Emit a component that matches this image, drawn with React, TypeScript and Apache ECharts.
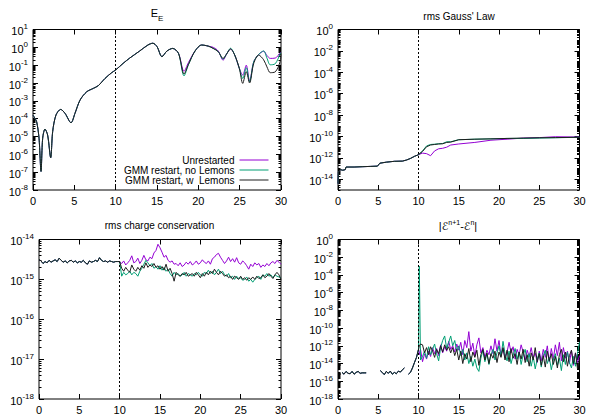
import React, { useEffect, useRef } from 'react';
import * as echarts from 'echarts';

// ---------- shared ----------
const seriesNames = ['Unrestarted', 'GMM restart, no Lemons', 'GMM restart, w  Lemons'];
const seriesColors = ['#9400d3', '#009e73', '#1e1e1e'];
const xTickStep = 5;
const restartTime = 10;

// ---------- panel 1 : E_E ----------
const eeEarlyT = [0, 0.2, 0.44, 0.73, 0.97, 1.17, 1.45, 1.77, 2.14, 2.38, 2.78, 3.35, 3.87, 4.6, 5.08, 5.69, 6.49, 7.3, 7.9, 8.71, 9.52, 10];
const eeEarly = [1.6e-4, 1.1e-4, 6.8e-5, 8e-6, 1.1e-7, 8e-6, 2.6e-5, 1.2e-5, 6.5e-7, 1.9e-5, 1.6e-4, 3.3e-4, 2.0e-4, 5.9e-5, 2.0e-4, 1.1e-3, 3.2e-3, 5.0e-3, 7.1e-3, 1.8e-2, 3.8e-2, 5.4e-2];
const eeLateT = [10.9, 11.7, 12.9, 13.9, 14.5, 15.0, 15.6, 16.2, 16.9, 17.6, 18.27, 18.8, 19.6, 20.4, 21.2, 21.8, 22.4, 23.0, 23.4, 23.9, 24.4, 24.96, 25.37, 25.8, 26.2, 26.7, 27.3, 27.9, 28.3, 28.7, 29.3, 29.9, 30];
const eeLateUnrestarted = [0.126, 0.25, 0.62, 1.35, 1.7, 1.1, 0.30, 0.62, 0.87, 0.46, 0.045, 0.14, 0.62, 1.35, 1.17, 1.0, 0.63, 0.19, 0.41, 0.81, 0.37, 0.066, 0.028, 0.10, 0.0126, 0.155, 0.40, 0.60, 0.35, 0.24, 0.25, 0.48, 0.52];
const eeLateNoLemons = [0.126, 0.25, 0.62, 1.35, 1.7, 1.1, 0.30, 0.62, 0.87, 0.46, 0.025, 0.105, 0.62, 1.35, 1.17, 0.87, 0.58, 0.22, 0.41, 0.89, 0.37, 0.066, 0.018, 0.072, 0.0117, 0.155, 0.40, 0.63, 0.25, 0.105, 0.12, 0.42, 0.5];
const eeLateWLemons = [0.126, 0.25, 0.62, 1.35, 1.7, 1.1, 0.30, 0.62, 0.87, 0.46, 0.032, 0.11, 0.62, 1.35, 1.17, 0.87, 0.58, 0.24, 0.41, 0.81, 0.37, 0.066, 0.0095, 0.043, 0.01, 0.126, 0.37, 0.2, 0.08, 0.038, 0.042, 0.16, 0.45];

// ---------- panel 2 : rms Gauss' Law ----------
const gaussEarlyT = [0, 0.05, 0.3, 0.6, 0.9, 1.0, 2, 3, 4, 4.9, 5.2, 6, 7, 8, 8.5, 9, 9.5, 10];
const gaussEarly = [4e-15, 5e-14, 8e-14, 7e-14, 8e-14, 1.4e-13, 1.4e-13, 1.5e-13, 1.6e-13, 1.7e-13, 3.2e-13, 4e-13, 4.8e-13, 5e-13, 6.3e-13, 8.9e-13, 1.4e-12, 2.0e-12];
const gaussLateT = [10.5, 11, 11.5, 12, 12.5, 13, 13.5, 14, 15, 17, 19, 21, 23, 25, 27, 30];
const gaussLateUnrestarted = [2.8e-12, 2.5e-12, 1.6e-12, 4.5e-12, 7.1e-12, 7.9e-12, 1e-11, 1.6e-11, 2.0e-11, 2.8e-11, 4.5e-11, 5.6e-11, 7.1e-11, 7.9e-11, 9.5e-11, 8.9e-11];
const gaussLateNoLemons = [4.5e-12, 1.3e-11, 1.8e-11, 1.9e-11, 2.1e-11, 2.2e-11, 3.2e-11, 3.2e-11, 5e-11, 5.6e-11, 6e-11, 6.6e-11, 6.6e-11, 7.1e-11, 7.6e-11, 8.5e-11];
const gaussLateWLemons = [4e-12, 1.1e-11, 1.6e-11, 1.8e-11, 2e-11, 2.1e-11, 2.8e-11, 3e-11, 5e-11, 5.6e-11, 6e-11, 6.6e-11, 7.1e-11, 7.6e-11, 7.9e-11, 8.5e-11];

// ---------- panel 3 : rms charge conservation (samples every 0.25) ----------
const chargeEarly = [
  3.2e-15, 2.9e-15, 2.5e-15, 2.8e-15, 2.6e-15, 3.0e-15, 2.7e-15, 2.9e-15,
  3.1e-15, 2.8e-15, 3.4e-15, 3.0e-15, 2.7e-15, 2.9e-15, 2.6e-15, 2.9e-15,
  3.0e-15, 2.7e-15, 2.9e-15, 2.6e-15, 2.8e-15, 2.7e-15, 3.0e-15, 2.6e-15,
  2.4e-15, 2.9e-15, 2.7e-15, 2.8e-15, 3.0e-15, 2.8e-15, 3.5e-15, 3.0e-15,
  2.8e-15, 2.9e-15, 2.7e-15, 2.9e-15, 2.8e-15, 2.7e-15, 2.8e-15, 2.8e-15,
  2.8e-15,
];
const chargeLateUnrestarted = [
  2.5e-15, 2.9e-15, 2.3e-15, 2.6e-15, 3.0e-15, 3.9e-15, 2.6e-15, 2.8e-15,
  3.4e-15, 2.5e-15, 3.0e-15, 4.0e-15, 3.1e-15, 2.9e-15, 3.6e-15, 3.3e-15,
  4.6e-15, 5.3e-15, 7.6e-15, 6.2e-15, 4.8e-15, 3.6e-15, 4.0e-15, 3.0e-15,
  2.7e-15, 2.9e-15, 2.4e-15, 2.5e-15, 2.2e-15, 2.6e-15, 2.1e-15, 2.3e-15,
  2.7e-15, 2.4e-15, 2.8e-15, 2.3e-15, 2.5e-15, 2.9e-15, 2.4e-15, 2.6e-15,
  3.1e-15, 2.7e-15, 2.5e-15, 2.9e-15, 2.4e-15, 3.3e-15, 3.6e-15, 4.2e-15,
  4.5e-15, 3.6e-15, 3.0e-15, 2.5e-15, 2.9e-15, 3.6e-15, 2.8e-15, 3.3e-15,
  2.7e-15, 3.5e-15, 2.6e-15, 2.4e-15, 2.9e-15, 2.6e-15, 2.2e-15, 1.8e-15,
  2.4e-15, 2.1e-15, 2.6e-15, 2.3e-15, 2.5e-15, 2.0e-15, 2.3e-15, 2.1e-15,
  2.5e-15, 2.2e-15, 2.6e-15, 2.8e-15, 2.5e-15, 3.0e-15, 2.7e-15, 2.4e-15,
];
const chargeLateNoLemons = [
  1.2e-15, 1.5e-15, 1.3e-15, 1.4e-15, 1.6e-15, 1.3e-15, 1.5e-15, 1.4e-15,
  1.2e-15, 1.6e-15, 1.9e-15, 2.4e-15, 3.0e-15, 2.6e-15, 2.2e-15, 2.5e-15,
  1.9e-15, 2.1e-15, 1.8e-15, 2.2e-15, 1.7e-15, 2.0e-15, 1.6e-15, 1.8e-15,
  1.4e-15, 1.2e-15, 1.5e-15, 1.3e-15, 1.4e-15, 1.2e-15, 1.3e-15, 1.5e-15,
  1.2e-15, 1.4e-15, 1.3e-15, 1.2e-15, 1.4e-15, 1.3e-15, 1.5e-15, 1.3e-15,
  1.2e-15, 1.5e-15, 1.4e-15, 1.7e-15, 1.4e-15, 1.6e-15, 1.3e-15, 1.5e-15,
  1.8e-15, 1.4e-15, 1.6e-15, 1.3e-15, 1.2e-15, 1.4e-15, 1.1e-15, 1.2e-15,
  1.0e-15, 1.2e-15, 1.05e-15, 1.1e-15, 0.95e-15, 1.0e-15, 1.15e-15, 0.9e-15,
  1.0e-15, 0.85e-15, 1.0e-15, 1.1e-15, 1.2e-15, 1.0e-15, 1.3e-15, 1.2e-15,
  1.4e-15, 1.2e-15, 1.3e-15, 1.1e-15, 1.3e-15, 1.2e-15, 1.15e-15, 1.1e-15,
];
const chargeLateWLemons = [
  1.9e-15, 1.6e-15, 2.0e-15, 1.7e-15, 1.5e-15, 2.3e-15, 1.8e-15, 1.6e-15,
  2.0e-15, 1.7e-15, 2.2e-15, 1.9e-15, 2.6e-15, 2.0e-15, 2.3e-15, 2.1e-15,
  2.5e-15, 2.0e-15, 2.2e-15, 1.8e-15, 2.1e-15, 1.7e-15, 2.4e-15, 1.6e-15,
  1.9e-15, 1.4e-15, 0.9e-15, 1.5e-15, 1.3e-15, 1.2e-15, 1.4e-15, 1.3e-15,
  1.5e-15, 1.2e-15, 1.3e-15, 1.4e-15, 1.2e-15, 1.5e-15, 1.3e-15, 1.1e-15,
  1.4e-15, 1.2e-15, 1.5e-15, 1.3e-15, 1.6e-15, 1.4e-15, 1.8e-15, 1.5e-15,
  1.3e-15, 1.6e-15, 1.4e-15, 1.2e-15, 1.3e-15, 1.1e-15, 1.2e-15, 1.0e-15,
  1.2e-15, 1.1e-15, 1.0e-15, 1.2e-15, 1.0e-15, 1.1e-15, 0.95e-15, 1.1e-15,
  1.0e-15, 1.15e-15, 1.0e-15, 1.2e-15, 1.05e-15, 1.1e-15, 1.3e-15, 1.1e-15,
  1.2e-15, 1.4e-15, 1.2e-15, 1.05e-15, 1.3e-15, 1.5e-15, 1.3e-15, 1.0e-15,
];

// ---------- panel 4 : |E^{n+1} - E^n| (samples every 0.25, null = no data) ----------
const diffEarly = [
  null, null, 1e-15, 6.3e-16, 1.3e-15, 7.9e-16, 7.1e-16, 1.3e-15,
  6.3e-16, 1e-15, 1.3e-15, 7.9e-16, 8.9e-16, 8.9e-16, 8.9e-16, null,
  null, null, null, null, null, 1.6e-15, 1e-15, 5.6e-16,
  1.3e-15, 7.9e-16, 1.4e-15, 6.3e-16, 1e-15, 7.1e-16, 1.4e-15, 1.1e-15,
  2.0e-15, 3.2e-15, null, 6.3e-16, 1e-15, 3.2e-15, 1.3e-14, 5.0e-14,
  4.0e-13,
];
const diffJumpT = 10.1;
const diffJump = [1e-13, 1e-3, 1e-12];
const diffLateUnrestarted = [
  4.0e-13, 1.6e-14, 1.3e-13, 3.2e-14, 2.5e-13, 6.3e-14, 6.3e-13, 1.3e-13,
  5.0e-13, 7.9e-14, 1.3e-12, 1.6e-13, 7.9e-13, 2.5e-13, 3.2e-12, 4.0e-13,
  1e-12, 2.0e-13, 1.6e-12, 3.2e-13, 2.5e-12, 1e-13, 4.0e-12, 6.3e-13,
  4.0e-11, 2.5e-13, 2.0e-12, 6.3e-14, 1.3e-12, 7.9e-12, 1.6e-13, 6.3e-13,
  5.0e-14, 3.2e-13, 1e-13, 1e-12, 1.3e-13, 6.3e-12, 2.5e-13, 4.0e-12,
  7.9e-14, 5.0e-13, 4.0e-14, 2.0e-13, 2.5e-12, 1.6e-13, 7.9e-13, 3.2e-14,
  4.0e-13, 1e-13, 1.3e-12, 2.0e-13, 2.5e-14, 3.2e-13, 6.3e-14, 6.3e-13,
  4.0e-14, 1.6e-13, 1.3e-14, 2.5e-13, 2.0e-14, 4.0e-13, 5.0e-14, 1e-12,
  1.6e-14, 5.0e-13, 3.2e-14, 1.3e-12, 7.9e-14, 2.5e-12, 2.0e-14, 6.3e-13,
  4.0e-14, 2.5e-13, 1e-14, 3.2e-13, 6.3e-15, 1.6e-13, 1.3e-14, 7.9e-14,
];
const diffLateNoLemons = [
  2.5e-14, 6.3e-14, 2.5e-13, 4.0e-14, 7.9e-13, 1e-13, 4.0e-13, 1.6e-12,
  1.3e-13, 2.0e-14, 6.3e-13, 4.0e-12, 1.3e-11, 5.0e-13, 2.5e-12, 1.3e-11,
  1e-12, 4.0e-12, 2.5e-13, 1e-12, 7.9e-14, 4.0e-13, 2.5e-14, 1.6e-13,
  1e-14, 6.3e-14, 5.0e-15, 3.2e-14, 3.2e-15, 1.3e-15, 4.0e-14, 3.2e-13,
  1.6e-14, 1.3e-13, 7.9e-15, 1e-13, 4.0e-13, 2.5e-14, 1.6e-13, 1e-12,
  6.3e-14, 3.2e-12, 1.3e-13, 2.0e-14, 2.5e-13, 1e-14, 7.9e-14, 5.0e-13,
  3.2e-14, 2.0e-13, 7.9e-15, 1e-13, 4.0e-13, 1.6e-14, 1.3e-13, 5.0e-15,
  6.3e-14, 2.5e-15, 3.2e-14, 1.6e-13, 4.0e-15, 7.9e-14, 3.2e-13, 1e-14,
  5.0e-14, 2.0e-15, 2.5e-14, 1.3e-13, 6.3e-15, 4.0e-14, 1.6e-15, 1e-13,
  7.9e-15, 2.0e-13, 1.3e-14, 3.2e-15, 6.3e-14, 5.0e-15, 1.3e-13, 2.5e-12,
];
const diffLateWLemons = [
  1.6e-12, 1.3e-12, 1.6e-13, 6.3e-13, 1e-13, 7.9e-13, 2.5e-13, 5.0e-14,
  4.0e-13, 1.3e-13, 1e-12, 2.0e-13, 1.3e-12, 3.2e-13, 7.9e-13, 1.6e-13,
  6.3e-13, 7.9e-14, 4.0e-13, 2.5e-14, 2.5e-13, 1e-14, 1.3e-13, 3.2e-14,
  5.0e-13, 1.6e-14, 2.0e-13, 5.0e-14, 3.2e-13, 6.3e-15, 1e-13, 4.0e-13,
  2.5e-14, 1.6e-13, 1e-14, 1.3e-13, 4.0e-14, 2.5e-13, 1.3e-14, 2.0e-13,
  5.0e-14, 6.3e-13, 2.5e-14, 3.2e-13, 1.6e-14, 5.0e-13, 4.0e-14, 1.3e-13,
  7.9e-15, 2.0e-13, 3.2e-14, 4.0e-13, 1.3e-14, 1e-13, 5.0e-15, 1.6e-13,
  2.5e-14, 6.3e-13, 1.6e-14, 1.3e-13, 6.3e-15, 7.9e-14, 4.0e-15, 2.5e-13,
  2.0e-14, 1.3e-13, 7.9e-15, 6.3e-14, 3.2e-15, 1e-13, 4.0e-13, 1.6e-14,
  2.0e-13, 5.0e-15, 7.9e-14, 3.2e-13, 1e-14, 1.6e-13, 2.5e-15, 3.2e-14,
];

// ---------- helpers ----------
const FONT = '"Liberation Sans", Arial, Helvetica, sans-serif';
const sampleTimes = (start: number, step: number, n: number) =>
  Array.from({ length: n }, (_, i) => +(start + step * i).toFixed(4));
const toPoints = (ts: number[], vs: (number | null)[]) =>
  ts.map((t, i) => (vs[i] == null ? [t, '-'] : [t, Math.log10(vs[i] as number)]));

const eeLate = [eeLateUnrestarted, eeLateNoLemons, eeLateWLemons];
const gaussLate = [gaussLateUnrestarted, gaussLateNoLemons, gaussLateWLemons];
const chargeLate = [chargeLateUnrestarted, chargeLateNoLemons, chargeLateWLemons];
const diffLate = [diffLateUnrestarted, diffLateNoLemons, diffLateWLemons];

const panelY = [
  { min: -8, max: 1, step: 1 },
  { min: -15, max: 0, step: 2 },
  { min: -18, max: -14, step: 1 },
  { min: -18, max: 0, step: 2 },
];

const grids = [
  { left: 33, top: 29.5, width: 248, height: 160.5 },
  { left: 338, top: 29.5, width: 241.5, height: 160.5 },
  { left: 39, top: 239.5, width: 242, height: 159.5 },
  { left: 338, top: 239.5, width: 241.5, height: 159.5 },
];

function buildOption() {
  const xAxis: any[] = [];
  const yAxis: any[] = [];
  const series: any[] = [];
  const tickStyle = { color: '#000', width: 1 };
  const noLine = { show: false, onZero: false };

  panelY.forEach((p, gi) => {
    const majors: number[] = [];
    for (let e = p.max; e >= p.min; e--) {
      if ((e - p.max) % p.step === 0) majors.push(e);
    }
    const minors: number[] = [];
    for (let e = p.min; e < p.max; e++) {
      for (let k = 2; k <= 9; k++) minors.push(e + Math.log10(k));
      if (!majors.includes(e)) minors.push(e);
    }
    const xBase = {
      type: 'value', gridIndex: gi, min: 0, max: 30, interval: xTickStep,
      axisLine: noLine, splitLine: { show: false },
      axisTick: { inside: true, length: 5, lineStyle: tickStyle },
    };
    xAxis.push({ ...xBase, position: 'bottom', axisLabel: { margin: 5, color: '#000', fontSize: 11, fontFamily: FONT } });
    xAxis.push({ ...xBase, position: 'top', axisLabel: { show: false } });

    const yBase = {
      type: 'value', gridIndex: gi, min: p.min, max: p.max,
      axisLine: noLine, splitLine: { show: false },
    };
    yAxis.push({
      ...yBase, position: 'left',
      axisTick: { inside: true, length: 5, lineStyle: tickStyle, customValues: majors },
      axisLabel: {
        customValues: majors, margin: 5, color: '#000',
        formatter: (v: number) => `{b|10}{s|${Math.round(v)}}`,
        rich: {
          b: { fontSize: 11, fontFamily: FONT, color: '#000', lineHeight: 14, verticalAlign: 'bottom' },
          s: { fontSize: 8, fontFamily: FONT, color: '#000', lineHeight: 14, verticalAlign: 'top' },
        },
      },
    });
    yAxis.push({
      ...yBase, position: 'right',
      axisTick: { inside: true, length: 5, lineStyle: tickStyle, customValues: majors },
      axisLabel: { show: false },
    });
    yAxis.push({
      ...yBase, position: 'left',
      axisTick: { inside: true, length: 2.5, lineStyle: tickStyle, customValues: minors },
      axisLabel: { show: false },
    });
    yAxis.push({
      ...yBase, position: 'right',
      axisTick: { inside: true, length: 2.5, lineStyle: tickStyle, customValues: minors },
      axisLabel: { show: false },
    });
  });

  const chargeEarlyT = sampleTimes(0, 0.25, chargeEarly.length);
  const chargeLateT = sampleTimes(10.25, 0.25, chargeLateUnrestarted.length);
  const diffEarlyT = sampleTimes(0, 0.25, diffEarly.length);
  const diffLateT = sampleTimes(10.25, 0.25, diffLateUnrestarted.length);

  const panelData = [
    (i: number) => toPoints(eeEarlyT, eeEarly).concat(toPoints(eeLateT, eeLate[i])),
    (i: number) => toPoints(gaussEarlyT, gaussEarly).concat(toPoints(gaussLateT, gaussLate[i])),
    (i: number) => toPoints(chargeEarlyT, chargeEarly).concat(toPoints(chargeLateT, chargeLate[i])),
    (i: number) => toPoints(diffEarlyT, diffEarly)
      .concat(toPoints([diffJumpT], [diffJump[i]]))
      .concat(toPoints(diffLateT, diffLate[i])),
  ];

  panelData.forEach((make, gi) => {
    seriesNames.forEach((name, i) => {
      const s: any = {
        type: 'line', name, xAxisIndex: gi * 2, yAxisIndex: gi * 4,
        data: make(i), symbol: 'none', showSymbol: false, connectNulls: false,
        smooth: gi === 0 ? 0.3 : false,
        lineStyle: { width: 1, color: seriesColors[i] },
        itemStyle: { color: seriesColors[i] },
        emphasis: { disabled: true }, silent: true, z: 3 + i,
      };
      if (i === 0) {
        s.markLine = {
          silent: true, symbol: ['none', 'none'], label: { show: false },
          lineStyle: { color: '#000', type: [2, 2], width: 1 },
          emphasis: { disabled: true },
          data: [{ xAxis: restartTime }],
        };
      }
      series.push(s);
    });
  });

  const titleFont = { fontSize: 10, fontFamily: FONT, fill: '#000' };
  const graphic = [
    {
      type: 'text', x: 157, y: 15,
      style: {
        text: '{b|E}{u|E}', align: 'center', verticalAlign: 'middle',
        rich: {
          b: { ...titleFont, fontSize: 11, lineHeight: 15, verticalAlign: 'top' },
          u: { ...titleFont, fontSize: 8, lineHeight: 15, verticalAlign: 'bottom' },
        },
      },
    },
    { type: 'text', x: 459, y: 16, style: { text: "rms Gauss' Law", align: 'center', verticalAlign: 'middle', ...titleFont } },
    { type: 'text', x: 159.5, y: 225, style: { text: 'rms charge conservation', align: 'center', verticalAlign: 'middle', ...titleFont } },
    {
      type: 'text', x: 458, y: 225,
      style: {
        text: '{b||}{e|ℰ}{s|n+1}{b|-}{e|ℰ}{s|n}{b||}', align: 'center', verticalAlign: 'middle',
        rich: {
          b: { ...titleFont, fontSize: 11, lineHeight: 13, verticalAlign: 'bottom' },
          e: { ...titleFont, fontSize: 11, fontFamily: '"DejaVu Sans", sans-serif', lineHeight: 13, verticalAlign: 'bottom' },
          s: { ...titleFont, fontSize: 7, lineHeight: 13, verticalAlign: 'top' },
        },
      },
    },
  ];

  return {
    animation: false,
    backgroundColor: '#fff',
    grid: grids.map((g) => ({ ...g, show: true, borderColor: '#000', borderWidth: 1, backgroundColor: 'transparent', containLabel: false })),
    xAxis,
    yAxis,
    legend: {
      data: seriesNames, orient: 'vertical', align: 'right',
      right: 329, top: 155, itemWidth: 29, itemHeight: 10, itemGap: 0, padding: 0,
      selectedMode: false,
      itemStyle: { opacity: 0 },
      lineStyle: { width: 1 },
      textStyle: { fontSize: 10, fontFamily: FONT, color: '#000', lineHeight: 10 },
    },
    graphic,
    series,
  };
}

export default function App() {
  const ref = useRef<HTMLDivElement>(null);
  useEffect(() => {
    if (!ref.current) return;
    const chart = echarts.init(ref.current, undefined, { renderer: 'svg' });
    chart.setOption(buildOption() as any);
    return () => chart.dispose();
  }, []);
  return <div ref={ref} style={{ position: 'absolute', left: 0, top: 0, width: 598, height: 419 }} />;
}
